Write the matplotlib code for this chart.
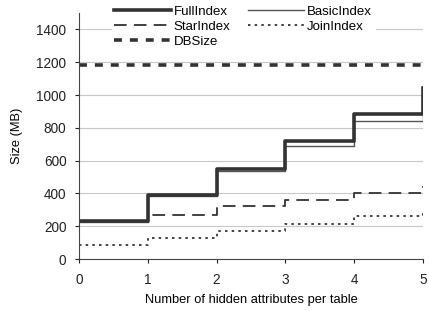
import matplotlib as mpl
mpl.use('Agg')
import matplotlib.pyplot as plt

plt.rcParams['font.family'] = ['Liberation Sans', 'DejaVu Sans']

attrs = [0, 1, 2, 3, 4, 5]
fullIndex = [233, 392, 552, 722, 885, 1043]
basicIndex = [226, 386, 540, 691, 842, 1000]
starIndex = [230, 270, 326, 362, 405, 446]
joinIndex = [88, 130, 172, 216, 261, 288]
dbSize = [1185, 1185, 1185, 1185, 1185, 1185]

fig = plt.figure(figsize=(4.29, 3.11), dpi=100)
ax = fig.add_axes([0.184, 0.167, 0.802, 0.791])

ax.set_axisbelow(True)
ax.yaxis.grid(True, color='#c8c8c8', linewidth=0.8)

ax.step(attrs, dbSize, where='post', color='#333333', linewidth=2.6, linestyle=(0, (2.2, 2.2)), label='DBSize')
ax.step(attrs, joinIndex, where='post', color='#222222', linewidth=1.2, linestyle=(0, (1.5, 2.5)), label='JoinIndex')
ax.step(attrs, starIndex, where='post', color='#333333', linewidth=1.3, linestyle=(0, (7, 4)), label='StarIndex')
ax.step(attrs, basicIndex, where='post', color='#555555', linewidth=1.0, label='BasicIndex')
ax.step(attrs, fullIndex, where='post', color='#333333', linewidth=2.6, label='FullIndex')

ax.set_xlim(0, 5)
ax.set_ylim(0, 1500)
ax.set_yticks(range(0, 1401, 200))
ax.set_xticks(attrs)
ax.tick_params(direction='out', length=3, labelsize=9.8, colors='#222222')
ax.tick_params(axis='x', pad=7)
ax.tick_params(axis='y', pad=6)
for s in ['top', 'right']:
    ax.spines[s].set_visible(False)
ax.spines['left'].set_color('#444444')
ax.spines['bottom'].set_color('#444444')

ax.set_xlabel('Number of hidden attributes per table', fontsize=9.3, labelpad=5)
ax.set_ylabel('Size (MB)', fontsize=9.3, labelpad=10)

h, l = ax.get_legend_handles_labels()
order = ['FullIndex', 'StarIndex', 'DBSize', 'BasicIndex', 'JoinIndex']
hd = dict(zip(l, h))
leg = fig.legend([hd[k] for k in order], order, ncol=2, loc='upper left',
                 bbox_to_anchor=(0.245, 1.012), frameon=True, fontsize=9.5,
                 handlelength=4.3, handletextpad=0.2, columnspacing=1.3,
                 labelspacing=0.22, borderpad=0.2)
leg.get_frame().set_edgecolor('white')
leg.get_frame().set_facecolor('white')
leg.get_frame().set_alpha(1)

plt.savefig('out.png', dpi=100)
